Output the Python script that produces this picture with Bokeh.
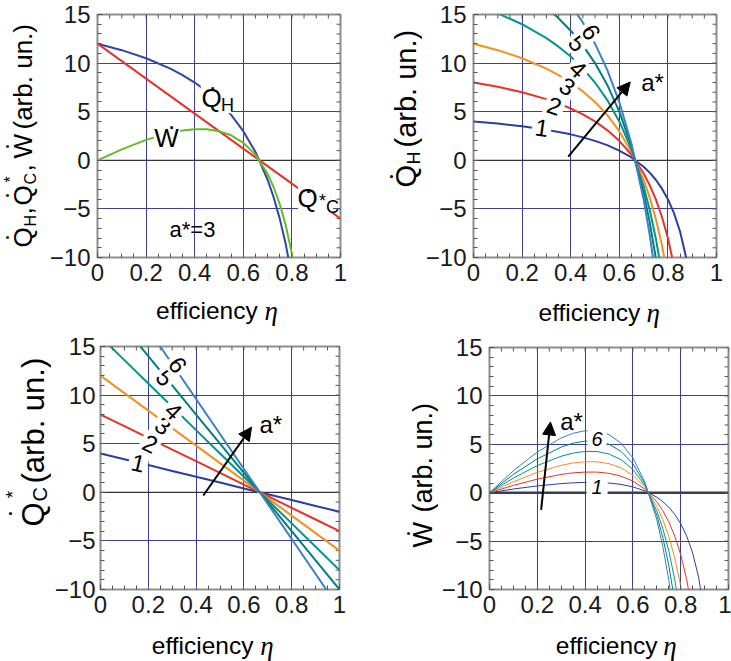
import math

from bokeh.embed import file_html
from bokeh.layouts import column, row
from bokeh.models import (Arrow, BoxAnnotation, FixedTicker, Label, NormalHead,
                          Range1d, Span)
from bokeh.plotting import figure
from bokeh.resources import INLINE

# ---------------------------------------------------------------- data
A_STAR = [1, 2, 3, 4, 5, 6]

# efficiency samples for the heat flow Q_H and the power W
ETA = [0.0, 0.1, 0.2, 0.3, 0.35, 0.4, 0.45, 0.5, 0.55, 0.6, 0.65, 0.7,
       0.725, 0.75, 0.775, 0.8, 0.825, 0.85, 0.875, 0.9]

QH_1 = [4.0, 3.78, 3.5, 3.14, 2.92, 2.67, 2.36, 2.0, 1.56, 1.0, 0.29, -0.67,
        -1.27, -2.0, -2.89, -4.0, -5.43, -7.33, -10.0, -14.0]
QH_2 = [8.0, 7.56, 7.0, 6.29, 5.85, 5.33, 4.73, 4.0, 3.11, 2.0, 0.57, -1.33,
        -2.55, -4.0, -5.78, -8.0, -10.86, -14.67, -20.0, -28.0]
QH_3 = [12.0, 11.33, 10.5, 9.43, 8.77, 8.0, 7.09, 6.0, 4.67, 3.0, 0.86, -2.0,
        -3.82, -6.0, -8.67, -12.0, -16.29, -22.0, -30.0, -42.0]
QH_4 = [16.0, 15.11, 14.0, 12.57, 11.69, 10.67, 9.45, 8.0, 6.22, 4.0, 1.14, -2.67,
        -5.09, -8.0, -11.56, -16.0, -21.71, -29.33, -40.0, -56.0]
QH_5 = [20.0, 18.89, 17.5, 15.71, 14.62, 13.33, 11.82, 10.0, 7.78, 5.0, 1.43, -3.33,
        -6.36, -10.0, -14.44, -20.0, -27.14, -36.67, -50.0, -70.0]
QH_6 = [24.0, 22.67, 21.0, 18.86, 17.54, 16.0, 14.18, 12.0, 9.33, 6.0, 1.71, -4.0,
        -7.64, -12.0, -17.33, -24.0, -32.57, -44.0, -60.0, -84.0]

W_1 = [0.0, 0.38, 0.7, 0.94, 1.02, 1.07, 1.06, 1.0, 0.86, 0.6, 0.19, -0.47,
       -0.92, -1.5, -2.24, -3.2, -4.48, -6.23, -8.75, -12.6]
W_2 = [0.0, 0.76, 1.4, 1.89, 2.05, 2.13, 2.13, 2.0, 1.71, 1.2, 0.37, -0.93,
       -1.85, -3.0, -4.48, -6.4, -8.96, -12.47, -17.5, -25.2]
W_3 = [0.0, 1.13, 2.1, 2.83, 3.07, 3.2, 3.19, 3.0, 2.57, 1.8, 0.56, -1.4,
       -2.77, -4.5, -6.72, -9.6, -13.44, -18.7, -26.25, -37.8]
W_4 = [0.0, 1.51, 2.8, 3.77, 4.09, 4.27, 4.25, 4.0, 3.42, 2.4, 0.74, -1.87,
       -3.69, -6.0, -8.96, -12.8, -17.91, -24.93, -35.0, -50.4]
W_5 = [0.0, 1.89, 3.5, 4.71, 5.12, 5.33, 5.32, 5.0, 4.28, 3.0, 0.93, -2.33,
       -4.61, -7.5, -11.19, -16.0, -22.39, -31.17, -43.75, -63.0]
W_6 = [0.0, 2.27, 4.2, 5.66, 6.14, 6.4, 6.38, 6.0, 5.13, 3.6, 1.11, -2.8,
       -5.54, -9.0, -13.43, -19.2, -26.87, -37.4, -52.5, -75.6]

# efficiency samples for the cooling flow Q*_C
ETA_C = [0.0, 0.1, 0.2, 0.3, 0.4, 0.5, 0.6, 0.7, 0.8, 0.9, 1.0]
QC_1 = [4.0, 3.4, 2.8, 2.2, 1.6, 1.0, 0.4, -0.2, -0.8, -1.4, -2.0]
QC_2 = [8.0, 6.8, 5.6, 4.4, 3.2, 2.0, 0.8, -0.4, -1.6, -2.8, -4.0]
QC_3 = [12.0, 10.2, 8.4, 6.6, 4.8, 3.0, 1.2, -0.6, -2.4, -4.2, -6.0]
QC_4 = [16.0, 13.6, 11.2, 8.8, 6.4, 4.0, 1.6, -0.8, -3.2, -5.6, -8.0]
QC_5 = [20.0, 17.0, 14.0, 11.0, 8.0, 5.0, 2.0, -1.0, -4.0, -7.0, -10.0]
QC_6 = [24.0, 20.4, 16.8, 13.2, 9.6, 6.0, 2.4, -1.2, -4.8, -8.4, -12.0]

QH = [QH_1, QH_2, QH_3, QH_4, QH_5, QH_6]
W = [W_1, W_2, W_3, W_4, W_5, W_6]
QC = [QC_1, QC_2, QC_3, QC_4, QC_5, QC_6]

X_TICKS = [0, 0.2, 0.4, 0.6, 0.8, 1]
X_TICK_LABELS = ["0", "0.2", "0.4", "0.6", "0.8", "1"]
Y_TICKS = [-10, -5, 0, 5, 10, 15]
Y_TICK_LABELS = ["\u221210", "\u22125", "0", "5", "10", "15"]

# ---------------------------------------------------------------- style
FONT = "Liberation Sans"
SERIF = "Liberation Serif"
GRID = "#3d3d9c"
TICK = "#555555"
CURVE = ["#2c3f9f", "#e6332a", "#f58f1f", "#00958f", "#00807d", "#3c7fc4"]
C_QH, C_QC, C_W = "#2f47a8", "#e6332a", "#66bb22"
DOT = "\u2022"

# frame of each panel in page pixels: left, top, width, height
G1 = (97, 14, 243, 243)
G2 = (472, 14, 244, 243)
G3 = (97, 346, 242, 243)
G4 = (486, 347, 242, 242)

X_MINOR = [i / 20 for i in range(21)]
Y_MINOR = list(range(-10, 16))


def to_data(geom, px, py):
    left, top, w, h = geom
    return (px - left) / w, 15 - (py - top) / h * 25


def overrides(ticks, labels):
    out = {}
    for t, s in zip(ticks, labels):
        out[float(t)] = s
        out[str(t)] = s
    return out


def panel(width, height, left, top, geom, y_standoff=7):
    p = figure(width=width, height=height,
               x_range=Range1d(0, 1), y_range=Range1d(-10, 15),
               output_backend="svg", toolbar_location=None,
               min_border_left=left, min_border_top=top,
               min_border_right=width - left - geom[2],
               min_border_bottom=height - top - geom[3])
    p.outline_line_color = "#8e8e8e"
    p.outline_line_width = 2
    p.background_fill_color = "white"
    p.border_fill_color = "white"

    for ax, ticks, minor, labels, standoff in (
            (p.xaxis[0], X_TICKS, X_MINOR, X_TICK_LABELS, 6),
            (p.yaxis[0], Y_TICKS, Y_MINOR, Y_TICK_LABELS, y_standoff)):
        ax.ticker = FixedTicker(ticks=ticks, minor_ticks=minor)
        ax.major_label_overrides = overrides(ticks, labels)
        ax.axis_line_color = None
        ax.major_tick_in = 5
        ax.major_tick_out = 0
        ax.minor_tick_in = 4
        ax.minor_tick_out = 0
        ax.major_tick_line_color = TICK
        ax.minor_tick_line_color = TICK
        ax.axis_label = None
        ax.major_label_text_font = FONT
        ax.major_label_text_font_size = "24px"
        ax.major_label_text_color = "#1a1a1a"
        ax.major_label_standoff = standoff

    # inward ticks mirrored on the top and right edges of the frame
    dx = 4 / geom[2]
    dy = 4 / geom[3] * 25
    p.segment(x0=X_MINOR, y0=[15] * len(X_MINOR), x1=X_MINOR,
              y1=[15 - dy] * len(X_MINOR), line_color=TICK, line_width=1)
    p.segment(x0=[1] * len(Y_MINOR), y0=Y_MINOR, x1=[1 - dx] * len(Y_MINOR),
              y1=Y_MINOR, line_color=TICK, line_width=1)

    p.xgrid.ticker = FixedTicker(ticks=X_TICKS[1:-1])
    p.ygrid.ticker = FixedTicker(ticks=[t for t in Y_TICKS if t not in (-10, 0, 15)])
    p.xgrid.grid_line_color = GRID
    p.ygrid.grid_line_color = GRID
    p.xgrid.grid_line_width = 1
    p.ygrid.grid_line_width = 1
    return p


class Strip:
    """A plain drawing area without axes that holds axis titles.

    Texts are given in page pixels; the strip knows its own page offset."""

    def __init__(self, width, height, page_left, page_top):
        self.left, self.top, self.height = page_left, page_top, height
        self.fig = figure(width=width, height=height,
                          x_range=Range1d(0, width), y_range=Range1d(0, height),
                          x_axis_type=None, y_axis_type=None,
                          output_backend="svg", toolbar_location=None, min_border=0)
        self.fig.outline_line_color = None
        self.fig.background_fill_color = "white"
        self.fig.border_fill_color = "white"

    def text(self, px, py, s, size, angle=0.0, align="left", baseline="alphabetic",
             font=FONT, style="normal"):
        self.fig.add_layout(Label(
            x=px - self.left, y=self.height - (py - self.top), text=s, angle=angle,
            text_align=align, text_baseline=baseline, text_font=font,
            text_font_size=f"{size}px", text_font_style=style, text_color="black"))

    def xlabel(self, px_word_end, px_eta, py):
        self.text(px_word_end, py, "efficiency", 24.5, align="right")
        self.text(px_eta, py, "\u03b7", 27, font=SERIF, style="italic")

    def ylabel(self, pieces):
        # pieces: (text, centre x, start y, size, align)
        for s, px, py, size, align in pieces:
            self.text(px, py, s, size, angle=math.pi / 2, align=align, baseline="middle")


def text(p, geom, px, py, s, size, align="center", baseline="middle"):
    x, y = to_data(geom, px, py)
    p.add_layout(Label(x=x, y=y, text=s, text_align=align, text_baseline=baseline,
                       text_font=FONT, text_font_size=f"{size}px", text_color="black"))


def zero_line(p, color="black", width=1):
    sp = Span(location=0, dimension="width", line_color=color, line_width=width)
    sp.level = "underlay"
    p.add_layout(sp)


def white_box(p, left, right, bottom, top):
    p.add_layout(BoxAnnotation(left=left, right=right, bottom=bottom, top=top,
                               fill_color="white", fill_alpha=1, line_color=None))


def curve_angle(xs, ys, x, geom):
    """Screen angle of a polyline at abscissa x (for labels along curves)."""
    for i in range(len(xs) - 1):
        if xs[i] <= x <= xs[i + 1]:
            slope = (ys[i + 1] - ys[i]) / (xs[i + 1] - xs[i])
            return math.atan(slope * (geom[3] / 25) / geom[2])
    return 0.0


def tag(p, x, y, s, size=24, angle=0.0, style="normal", pad=3):
    p.add_layout(Label(x=x, y=y, text=s, angle=angle, text_align="center",
                       text_baseline="middle", text_font=FONT,
                       text_font_size=f"{size}px", text_font_style=style,
                       text_color="black", background_fill_color="white",
                       padding=pad))


def arrow(p, x0, y0, x1, y1, lx, ly):
    p.add_layout(Arrow(end=NormalHead(size=13, fill_color="black", line_color="black"),
                       x_start=x0, y_start=y0, x_end=x1, y_end=y1,
                       line_color="black", line_width=2))
    p.add_layout(Label(x=lx, y=ly, text="a*", text_align="left", text_baseline="middle",
                       text_font=FONT, text_font_size="24px", text_color="black"))


# ---------------------------------------------------------------- panel 1: a* = 3
p1 = panel(320, 293, 52, 14, G1)
zero_line(p1)
p1.line(ETA, QH_3, line_color=C_QH, line_width=2)
p1.line(ETA_C, QC_3, line_color=C_QC, line_width=2)
p1.line(ETA, W_3, line_color=C_W, line_width=2)
white_box(p1, 0.425, 0.55, 4.85, 9.2)
white_box(p1, 0.232, 0.34, 1.2, 4.6)
white_box(p1, 0.825, 0.97, -5.4, -2.0)
text(p1, G1, 211, 97, "Q", 26)
text(p1, G1, 227, 104, "H", 18)
text(p1, G1, 212, 80, ".", 26, baseline="alphabetic")
text(p1, G1, 166, 137, "W", 26)
text(p1, G1, 171, 119, ".", 26, baseline="alphabetic")
text(p1, G1, 307, 197, "Q", 26)
text(p1, G1, 308, 183, ".", 26, baseline="alphabetic")
text(p1, G1, 322, 200, "*", 18, baseline="alphabetic")
text(p1, G1, 332, 206, "C", 18)
text(p1, G1, 192, 229, "a*=3", 22)

yl1 = Strip(45, 330, 0, 0)
yl1.ylabel([
    ("Q", 22, 247, 26, "left"), ("H", 30, 226, 16, "left"), (",", 22, 214, 26, "left"),
    ("Q", 22, 205, 26, "left"), ("C", 30, 184, 16, "left"), (",", 22, 171, 26, "left"),
    ("W", 22, 158, 26, "left"), ("(arb. un.)", 22, 129, 26, "left"),
    (DOT, 7, 237, 10, "center"), (DOT, 7, 195, 10, "center"),
    (DOT, 7, 146, 10, "center"), ("*", 10, 179, 16, "center"),
])
xl1 = Strip(320, 37, 45, 293)
xl1.xlabel(256, 265, 310)

# ---------------------------------------------------------------- panel 2: Q_H
p2 = panel(309, 293, 50, 14, G2)
zero_line(p2)
for a, ys, c in zip(A_STAR, QH, CURVE):
    p2.line(ETA, ys, line_color=c, line_width=2)
for a, ys, (x, y) in zip(A_STAR, QH, [(0.281, 3.35), (0.333, 5.6), (0.386, 7.6),
                                      (0.43, 9.4), (0.428, 12.05), (0.484, 13.2)]):
    tag(p2, x, y, str(a), angle=curve_angle(ETA, ys, x, G2))
arrow(p2, 0.39, 0.38, 0.645, 8.06, 0.69, 8.0)

yl2 = Strip(57, 330, 365, 0)
yl2.ylabel([
    ("Q", 405, 187, 29, "left"), ("H", 413, 164, 18, "left"),
    ("(arb. un.)", 405, 147, 29, "left"), (DOT, 390, 176, 11, "center"),
])
xl2 = Strip(309, 37, 422, 293)
xl2.xlabel(634, 642, 312)

# ---------------------------------------------------------------- panel 3: Q*_C
p3 = panel(314, 295, 46, 16, G3, y_standoff=5)
zero_line(p3)
for a, ys, c in zip(A_STAR, QC, CURVE):
    p3.line(ETA_C, ys, line_color=c, line_width=2)
for a, ys, (x, y) in zip(A_STAR, QC, [(0.158, 3.0), (0.208, 5.0), (0.262, 6.85),
                                      (0.305, 8.37), (0.27, 11.8), (0.323, 13.1)]):
    tag(p3, x, y, str(a), angle=curve_angle(ETA_C, ys, x, G3))
arrow(p3, 0.43, -0.33, 0.632, 6.7, 0.665, 7.0)

yl3 = Strip(51, 331, 0, 330)
yl3.ylabel([
    ("Q", 33, 526, 31, "left"), ("C", 39.5, 501, 20, "left"),
    ("(arb. un.)", 33, 483, 31, "left"), (DOT, 9, 513, 11, "center"),
    ("*", 12, 494, 19, "center"),
])
xl3 = Strip(314, 36, 51, 625)
xl3.xlabel(252, 261, 645)

# ---------------------------------------------------------------- panel 4: W
p4 = panel(293, 295, 48, 17, G4)
zero_line(p4, color="#3b3b52", width=2.5)
for a, ys, c in zip(A_STAR, W, CURVE):
    p4.line(ETA, ys, line_color=c, line_width=1)
tag(p4, 0.45, 5.55, "6", size=20, style="italic", pad=4)
tag(p4, 0.45, 0.55, "1", size=20, style="italic", pad=5)
arrow(p4, 0.216, -1.77, 0.255, 7.31, 0.296, 7.4)

yl4 = Strip(73, 331, 365, 330)
yl4.ylabel([
    ("W", 422, 547, 27, "left"), ("(arb. un.)", 422, 512, 27, "left"),
    (DOT, 408, 533, 10, "center"),
])
xl4 = Strip(293, 36, 438, 625)
xl4.xlabel(644, 651, 645)

layout = column(
    row(yl1.fig, column(p1, xl1.fig), yl2.fig, column(p2, xl2.fig)),
    row(yl3.fig, column(p3, xl3.fig), yl4.fig, column(p4, xl4.fig)),
)
open("out.html", "w").write(file_html(layout, INLINE))
